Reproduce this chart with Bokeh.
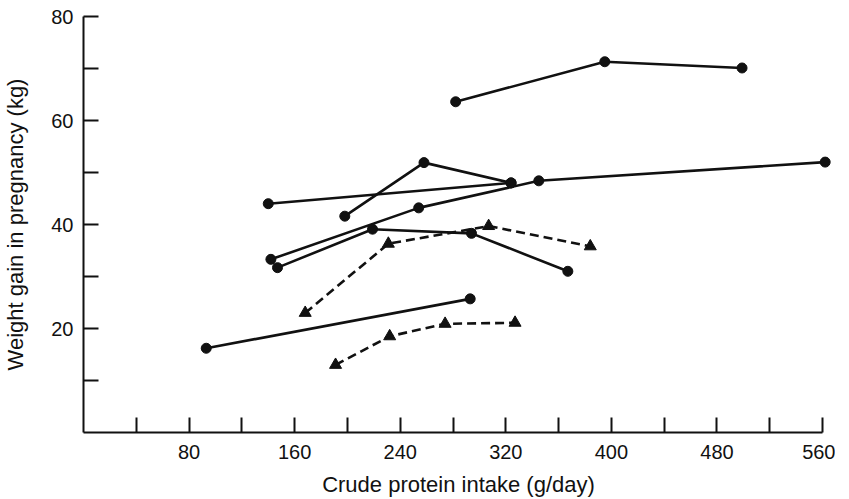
from bokeh.plotting import figure
from bokeh.models import Range1d, FixedTicker
from bokeh.embed import file_html
from bokeh.resources import INLINE

# --- data (crude protein intake g/day, weight gain kg) ---
s1_x = [282, 395, 499]
s1_y = [63.6, 71.3, 70.1]
s2_x = [140, 324]
s2_y = [44.0, 48.0]
s3_x = [142, 254, 345, 562]
s3_y = [33.3, 43.2, 48.4, 52.0]
s4_x = [198, 258, 324]
s4_y = [41.6, 51.9, 48.0]
s5_x = [147, 219, 294, 367]
s5_y = [31.7, 39.1, 38.3, 31.0]
s6_x = [93, 293]
s6_y = [16.2, 25.7]
d1_x = [168, 231, 307, 384]
d1_y = [23.0, 36.3, 39.7, 35.8]
d2_x = [191, 232, 274, 327]
d2_y = [13.0, 18.5, 20.9, 21.1]

x_ticks = [40, 80, 120, 160, 200, 240, 280, 320, 360, 400, 440, 480, 520, 560]
x_labeled = [80, 160, 240, 320, 400, 480, 560]
y_ticks = [10, 20, 30, 40, 50, 60, 70, 80]
y_labeled = [20, 40, 60, 80]

solid_series = [(s1_x, s1_y), (s2_x, s2_y), (s3_x, s3_y), (s4_x, s4_y),
                (s5_x, s5_y), (s6_x, s6_y)]
dashed_series = [(d1_x, d1_y), (d2_x, d2_y)]

FONT = "Liberation Sans"
INK = "#111111"

# 560 units -> 739 px ; range extended a little so the last marker is not clipped
p = figure(frame_width=750, frame_height=416,
           x_range=Range1d(0, 568.3), y_range=Range1d(0, 80),
           output_backend="svg", toolbar_location=None,
           min_border_left=79, min_border_right=2,
           min_border_top=16, min_border_bottom=50)
p.outline_line_color = None
p.xgrid.visible = False
p.ygrid.visible = False
p.background_fill_color = "white"

for xs, ys in solid_series:
    p.line(xs, ys, line_color=INK, line_width=2.6)
    p.scatter(xs, ys, marker="circle", size=10, fill_color=INK, line_color=INK)

for xs, ys in dashed_series:
    p.line(xs, ys, line_color=INK, line_width=2.6, line_dash="9 5")
    p.scatter(xs, ys, marker="triangle", size=12, fill_color=INK, line_color=INK)

for ax, ticks, labeled in ((p.xaxis[0], x_ticks, x_labeled), (p.yaxis[0], y_ticks, y_labeled)):
    ax.ticker = FixedTicker(ticks=ticks, minor_ticks=[])
    ax.major_label_overrides = {t: ("" if t not in labeled else str(t)) for t in ticks}
    ax.axis_line_color = INK
    ax.axis_line_width = 2
    ax.major_tick_line_color = INK
    ax.major_tick_line_width = 2
    ax.major_tick_in = 15
    ax.major_tick_out = 0
    ax.minor_tick_line_color = None
    ax.major_label_text_font = FONT
    ax.major_label_text_font_size = "20px"
    ax.major_label_text_color = INK
    ax.axis_label_text_font = FONT
    ax.axis_label_text_font_size = "22px"
    ax.axis_label_text_font_style = "normal"
    ax.axis_label_text_color = INK

p.xaxis[0].bounds = (0, 560)
p.xaxis[0].axis_label = "Crude protein intake (g/day)"
p.yaxis[0].axis_label = "Weight gain in pregnancy (kg)"
p.xaxis[0].major_label_standoff = 12
p.yaxis[0].major_label_standoff = 10
p.xaxis[0].axis_label_standoff = 10
p.yaxis[0].axis_label_standoff = 20

open("out.html", "w").write(file_html(p, INLINE))
